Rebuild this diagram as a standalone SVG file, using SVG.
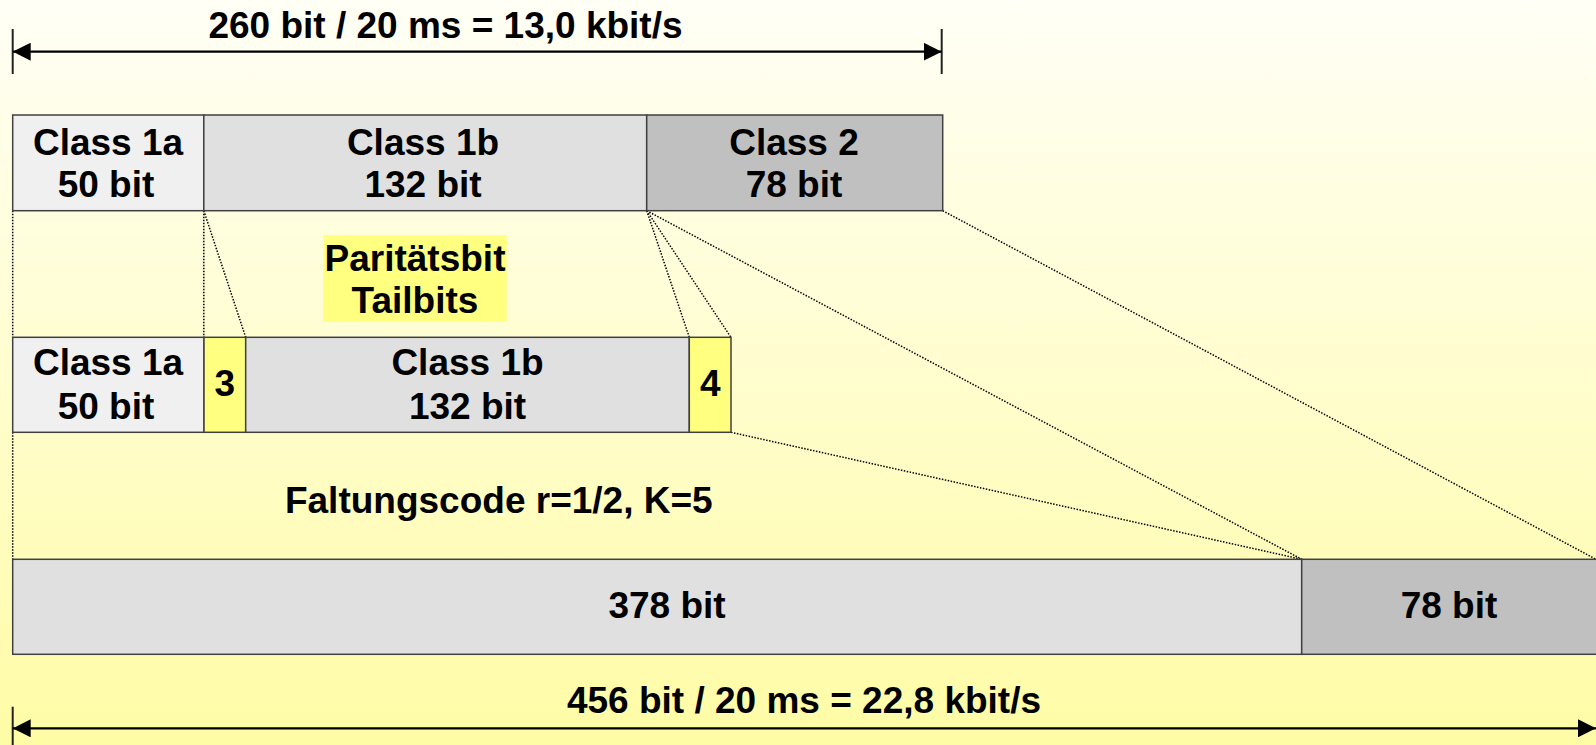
<svg xmlns="http://www.w3.org/2000/svg" width="1596" height="745" viewBox="0 0 1596 745">
  <defs>
    <linearGradient id="bg" x1="0" y1="0" x2="0" y2="1">
      <stop offset="0" stop-color="#FFFFF6"/>
      <stop offset="1" stop-color="#FFFCA6"/>
    </linearGradient>
    <marker id="head" viewBox="0 0 18 18" refX="18" refY="9" markerWidth="18" markerHeight="18" markerUnits="userSpaceOnUse" orient="auto-start-reverse">
      <path d="M0,0 L18,9 L0,18 z" fill="#000"/>
    </marker>
    <style>
      .lbl { font-family: "Liberation Sans", Arial, sans-serif; font-weight: bold; font-size: 37px; fill: #000; text-anchor: middle; }
      .seg { stroke: #404040; stroke-width: 1.5; }
      .c1a { fill: #F0F0F0; }
      .c1b { fill: #E0E0E0; }
      .c2 { fill: #C0C0C0; }
      .yel { fill: #FFFF80; }
      .dot { fill: none; stroke: #000; stroke-width: 1.5; stroke-dasharray: 1.5 1.5; }
      .dim { stroke: #000; stroke-width: 2.2; fill: none; }
      .tick { stroke: #222; stroke-width: 2; }
    </style>
  </defs>

  <rect x="0" y="0" width="1596" height="745" fill="url(#bg)"/>

  <!-- connectors: dotted projection lines between the rows -->
  <g id="connectors">
    <line class="dot" x1="12.7" y1="210.7" x2="12.7" y2="337.3"/>
    <line class="dot" x1="203.8" y1="210.7" x2="203.8" y2="337.3"/>
    <line class="dot" x1="203.8" y1="210.7" x2="245.7" y2="337.3"/>
    <line class="dot" x1="646.7" y1="210.7" x2="689.3" y2="337.3"/>
    <line class="dot" x1="646.7" y1="210.7" x2="731" y2="337.3"/>
    <line class="dot" x1="646.7" y1="210.7" x2="1301.7" y2="559.3"/>
    <line class="dot" x1="942.7" y1="210.7" x2="1596" y2="559.3"/>
    <line class="dot" x1="12.7" y1="432.3" x2="12.7" y2="559.3"/>
    <line class="dot" x1="731" y1="432.3" x2="1301.7" y2="559.3"/>
  </g>

  <!-- dimension: source rate -->
  <g id="rate-in">
    <line class="tick" x1="12.7" y1="29" x2="12.7" y2="74"/>
    <line class="tick" x1="941.7" y1="29" x2="941.7" y2="74"/>
    <line class="dim" x1="12.7" y1="51.7" x2="941.7" y2="51.7" marker-start="url(#head)" marker-end="url(#head)"/>
    <text class="lbl" x="445.5" y="37.7">260 bit / 20 ms = 13,0 kbit/s</text>
  </g>

  <!-- row 1: speech frame classes -->
  <g id="r1-class1a">
    <rect class="c1a seg" x="12.7" y="115" width="191.1" height="95.7"/>
    <text class="lbl" x="108" y="155">Class 1a</text>
    <text class="lbl" x="106" y="196.7">50 bit</text>
  </g>
  <g id="r1-class1b">
    <rect class="c1b seg" x="203.8" y="115" width="442.9" height="95.7"/>
    <text class="lbl" x="423" y="155">Class 1b</text>
    <text class="lbl" x="423" y="196.7">132 bit</text>
  </g>
  <g id="r1-class2">
    <rect class="c2 seg" x="646.7" y="115" width="296" height="95.7"/>
    <text class="lbl" x="794" y="155">Class 2</text>
    <text class="lbl" x="794" y="196.7">78 bit</text>
  </g>

  <!-- note: parity and tail bits -->
  <g id="note-parity">
    <rect class="yel" x="323.3" y="235" width="183.4" height="86.7"/>
    <text class="lbl" x="415" y="270.7">Paritätsbit</text>
    <text class="lbl" x="415" y="312.7">Tailbits</text>
  </g>

  <!-- row 2: with parity and tail bits -->
  <g id="r2-class1a">
    <rect class="c1a seg" x="12.7" y="337.3" width="191.3" height="95"/>
    <text class="lbl" x="108" y="375">Class 1a</text>
    <text class="lbl" x="106" y="419">50 bit</text>
  </g>
  <g id="r2-parity">
    <rect class="yel seg" x="204" y="337.3" width="41.7" height="95"/>
    <text class="lbl" x="224.8" y="396">3</text>
  </g>
  <g id="r2-class1b">
    <rect class="c1b seg" x="245.7" y="337.3" width="443.6" height="95"/>
    <text class="lbl" x="467.5" y="375">Class 1b</text>
    <text class="lbl" x="467.5" y="419">132 bit</text>
  </g>
  <g id="r2-tail">
    <rect class="yel seg" x="689.3" y="337.3" width="41.7" height="95"/>
    <text class="lbl" x="710.2" y="396">4</text>
  </g>

  <g id="note-code">
    <text class="lbl" x="498.8" y="513.3">Faltungscode r=1/2, K=5</text>
  </g>

  <!-- row 3: coded frame -->
  <g id="r3-coded">
    <rect class="c1b seg" x="12.7" y="559.3" width="1289" height="95"/>
    <text class="lbl" x="667" y="618.3">378 bit</text>
  </g>
  <g id="r3-class2">
    <rect class="c2 seg" x="1301.7" y="559.3" width="300" height="95"/>
    <text class="lbl" x="1449" y="618.3">78 bit</text>
  </g>

  <!-- dimension: channel rate -->
  <g id="rate-out">
    <line class="tick" x1="12.7" y1="706.7" x2="12.7" y2="745"/>
    <line class="dim" x1="12.7" y1="728.3" x2="1596" y2="728.3" marker-start="url(#head)" marker-end="url(#head)"/>
    <text class="lbl" x="804" y="713.3">456 bit / 20 ms = 22,8 kbit/s</text>
  </g>
</svg>
